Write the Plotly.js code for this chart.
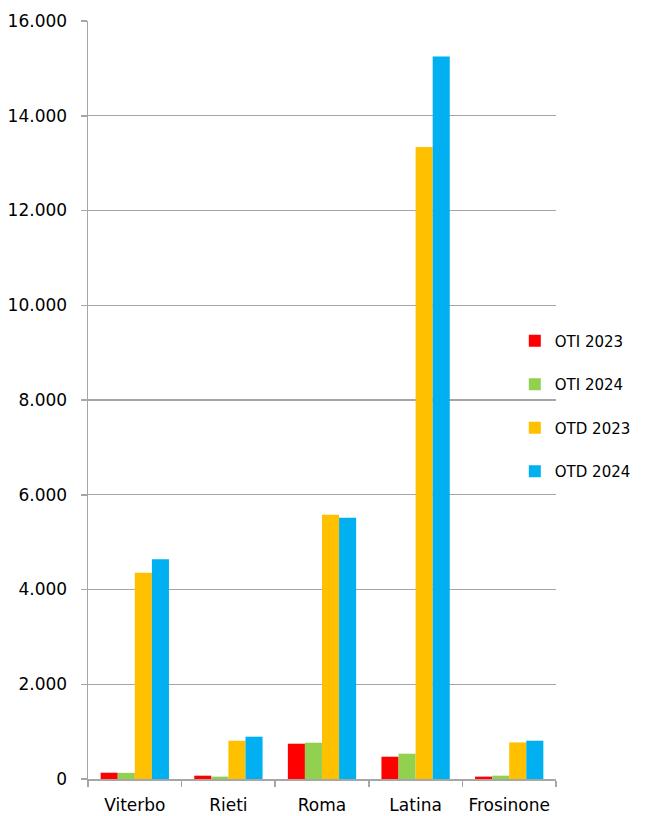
<!DOCTYPE html>
<html>
<head>
<meta charset="utf-8">
<script src="https://cdn.plot.ly/plotly-3.0.1.min.js"></script>
<style>html,body{margin:0;padding:0;background:#fff;}#chart{width:648px;height:816px;}</style>
</head>
<body>
<div id="chart"></div>
<script>
const categories = ["Viterbo", "Rieti", "Roma", "Latina", "Frosinone"];
const seriesNames = ["OTI 2023", "OTI 2024", "OTD 2023", "OTD 2024"];
const oti2023 = [133, 70, 745, 470, 50];
const oti2024 = [130, 50, 766, 534, 70];
const otd2023 = [4352, 808, 5576, 13340, 772];
const otd2024 = [4641, 893, 5513, 15253, 808];
const yTicks = [0, 2000, 4000, 6000, 8000, 10000, 12000, 14000, 16000];

const colors = ["#FF0000", "#92D050", "#FFC000", "#00B0F0"];
const values = [oti2023, oti2024, otd2023, otd2024];

const traces = values.map((v, i) => ({
  type: "bar",
  name: seriesNames[i],
  x: categories,
  y: v,
  marker: {color: colors[i], line: {width: 0}},
  legendgroup: "g" + i,
  hoverinfo: "x+y"
}));

const font = "'DejaVu Sans', 'Liberation Sans', sans-serif";
const layout = {
  width: 648, height: 816,
  margin: {l: 88, r: 92, t: 21, b: 37, pad: 0},
  paper_bgcolor: "#fff", plot_bgcolor: "#fff",
  separators: ",.",
  font: {family: font, size: 16, color: "#000"},
  barmode: "group",
  bargap: 0.27,
  bargroupgap: 0,
  showlegend: true,
  legend: {
    x: 0.912, xanchor: "left", y: 0.492, yanchor: "middle",
    font: {family: font, size: 15, color: "#000"},
    traceorder: "grouped", tracegroupgap: 21,
    itemwidth: 30, bgcolor: "rgba(0,0,0,0)"
  },
  xaxis: {
    showline: true, linecolor: "#a6a6a6", linewidth: 1.5,
    ticks: "outside", tickson: "boundaries", ticklen: 6, tickcolor: "#a6a6a6", tickwidth: 1.5,
    showgrid: false, zeroline: false,
    tickangle: 0,
    ticklabelstandoff: 10,
    tickfont: {family: font, size: 17, color: "#000"},
    fixedrange: true
  },
  yaxis: {
    range: [0, 16000],
    tickvals: yTicks,
    tickformat: ",d",
    showline: true, linecolor: "#a6a6a6", linewidth: 1.5,
    ticks: "outside", ticklen: 6, tickcolor: "#a6a6a6", tickwidth: 1.5,
    showgrid: true, gridcolor: "#a6a6a6", gridwidth: 1.2,
    zeroline: false,
    ticklabelstandoff: 10,
    tickfont: {family: font, size: 17, color: "#000"},
    fixedrange: true
  }
};

Plotly.newPlot("chart", traces, layout, {displayModeBar: false, staticPlot: true});
</script>
</body>
</html>
